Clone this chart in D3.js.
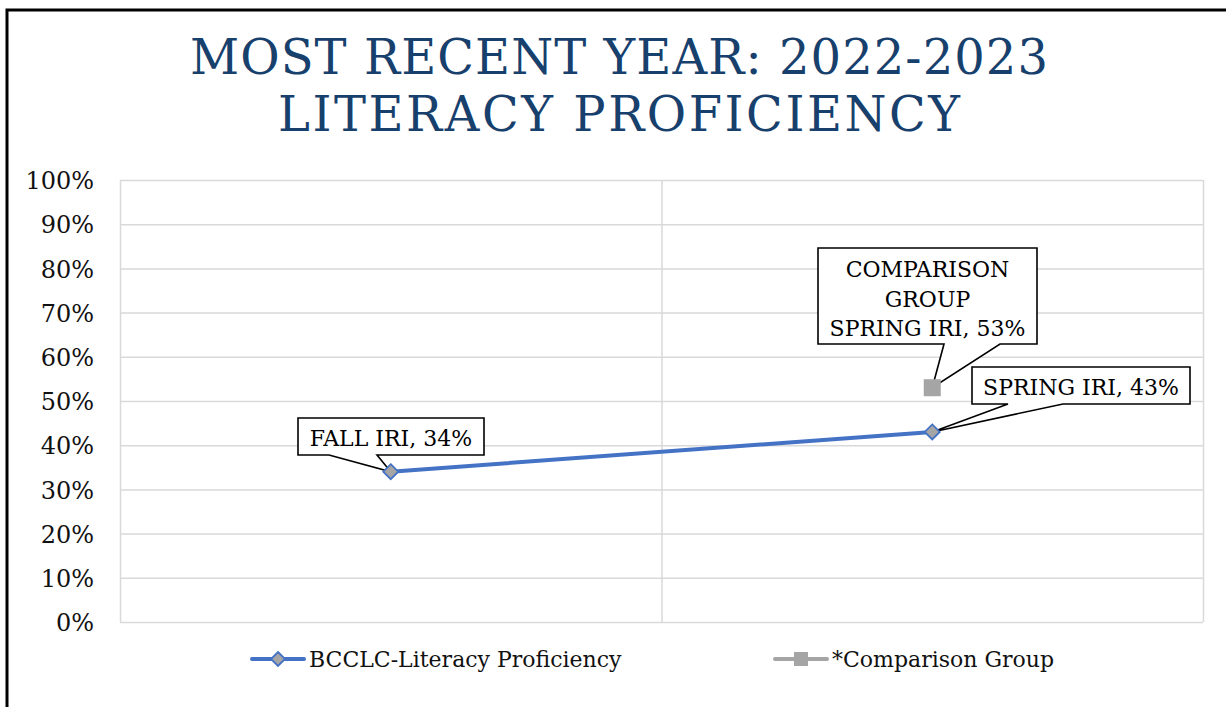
<!DOCTYPE html>
<html><head><meta charset="utf-8">
<script src="https://cdn.jsdelivr.net/npm/d3@7"></script>
<style>
html,body{margin:0;padding:0;background:#fff;}
svg{display:block;font-family:"DejaVu Serif",serif;}
</style></head>
<body>
<svg id="chart" width="1226" height="707"></svg>
<script>
const titleLines = ["MOST RECENT YEAR: 2022-2023", "LITERACY PROFICIENCY"];
const categories = ["FALL IRI", "SPRING IRI"];
const bcclcValues = [0.34, 0.43];
const comparisonValues = [null, 0.53];
const yTicks = [0,0.1,0.2,0.3,0.4,0.5,0.6,0.7,0.8,0.9,1.0];
const seriesNames = ["BCCLC-Literacy Proficiency", "*Comparison Group"];

(function(){
const svg = d3.select("#chart");
const W = 1226, H = 707;

svg.append("path").attr("d", `M7,${H} L7,10 L${W},10`).attr("fill","none").attr("stroke","#000").attr("stroke-width",3);

const titleColor = "#17406D";
const titleT = svg.append("g");
[[titleLines[0], 74, 190, 858],[titleLines[1], 131, 278, 682]].forEach(([t,yy,xx,w])=>{
  titleT.append("text").attr("x",xx).attr("y",yy).attr("font-size",48)
   .attr("fill",titleColor).attr("textLength",w).attr("lengthAdjust","spacing").text(t);
});

const pL=120, pR=1203, pT=180, pB=622;
const x = d3.scaleBand().domain(categories).range([pL,pR]);
const y = d3.scaleLinear().domain([0,1]).range([pB,pT]);

svg.append("g").selectAll("line").data(yTicks).join("line")
  .attr("x1",pL).attr("x2",pR).attr("y1",d=>y(d)+0.5).attr("y2",d=>y(d)+0.5)
  .attr("stroke","#D9D9D9").attr("stroke-width",1.5);
const vb = [pL, x(categories[1]), pR];
svg.append("g").selectAll("line").data(vb).join("line")
  .attr("x1",d=>d+0.5).attr("x2",d=>d+0.5).attr("y1",pT).attr("y2",pB)
  .attr("stroke","#D9D9D9").attr("stroke-width",1.5);

const yAxis = d3.axisLeft(y).tickValues(yTicks).tickFormat(d3.format(".0%")).tickSize(0).tickPadding(26);
const ya = svg.append("g").attr("transform",`translate(${pL},0)`).call(yAxis);
ya.select(".domain").remove();
ya.selectAll("text").attr("font-family","DejaVu Serif").attr("font-size",24).attr("fill","#111").attr("dy","0.36em");

const cx = d => x(d)+x.bandwidth()/2;

const line = d3.line().x((d,i)=>cx(categories[i])).y(d=>y(d));
svg.append("path").datum(bcclcValues).attr("d",line).attr("fill","none")
  .attr("stroke","#4472C4").attr("stroke-width",4).attr("stroke-linecap","round");

function callout(bx,by,bw,bh,p1,p2,tip,lines,baselines,fs){
  const g = svg.append("g");
  g.append("path").attr("d",`M${bx},${by} H${bx+bw} V${by+bh} H${p2} L${tip[0]},${tip[1]} L${p1},${by+bh} H${bx} Z`)
    .attr("fill","#fff").attr("stroke","#000").attr("stroke-width",1.6).attr("stroke-linejoin","miter");
  lines.forEach((t,i)=>{
    g.append("text").attr("x",bx+bw/2).attr("y",by+baselines[i])
     .attr("text-anchor","middle").attr("font-size",fs).attr("fill","#000").text(t);
  });
}
const fmt = d3.format(".0%");
callout(298,418,186,37,329,377,[cx(categories[0]),y(bcclcValues[0])],[`${categories[0]}, ${fmt(bcclcValues[0])}`],[28],22);
callout(818,248,219,96,944,1000,[cx(categories[1]),y(comparisonValues[1])],["COMPARISON","GROUP",`${categories[1]}, ${fmt(comparisonValues[1])}`],[29,58.5,88],22);
callout(972,367,218,37,1008,1063,[cx(categories[1]),y(bcclcValues[1])],[`${categories[1]}, ${fmt(bcclcValues[1])}`],[28],22);

const diamond = (cxp,cyp,r)=>`M${cxp},${cyp-r} L${cxp+r},${cyp} L${cxp},${cyp+r} L${cxp-r},${cyp} Z`;
svg.append("g").selectAll("path").data(bcclcValues).join("path")
  .attr("d",(d,i)=>diamond(cx(categories[i]),y(d),7.5))
  .attr("fill","#A5A5A5").attr("stroke","#4472C4").attr("stroke-width",1.8);
svg.append("g").selectAll("rect").data(comparisonValues.map((v,i)=>[v,i]).filter(d=>d[0]!=null)).join("rect")
  .attr("x",d=>cx(categories[d[1]])-8.5).attr("y",d=>y(d[0])-8.5).attr("width",17).attr("height",17)
  .attr("fill","#A5A5A5");

const lg = svg.append("g");
lg.append("line").attr("x1",252).attr("x2",304).attr("y1",659).attr("y2",659).attr("stroke","#4472C4").attr("stroke-width",4).attr("stroke-linecap","round");
lg.append("path").attr("d",diamond(278,659,7)).attr("fill","#A5A5A5").attr("stroke","#4472C4").attr("stroke-width",1.8);
lg.append("text").attr("x",309).attr("y",667).attr("font-size",22).attr("fill","#111").text(seriesNames[0]);
lg.append("line").attr("x1",775).attr("x2",827).attr("y1",659).attr("y2",659).attr("stroke","#A5A5A5").attr("stroke-width",4).attr("stroke-linecap","round");
lg.append("rect").attr("x",794).attr("y",652).attr("width",14).attr("height",14).attr("fill","#A5A5A5");
lg.append("text").attr("x",832).attr("y",667).attr("font-size",22).attr("fill","#111").text(seriesNames[1]);
})();
</script>
</body></html>
